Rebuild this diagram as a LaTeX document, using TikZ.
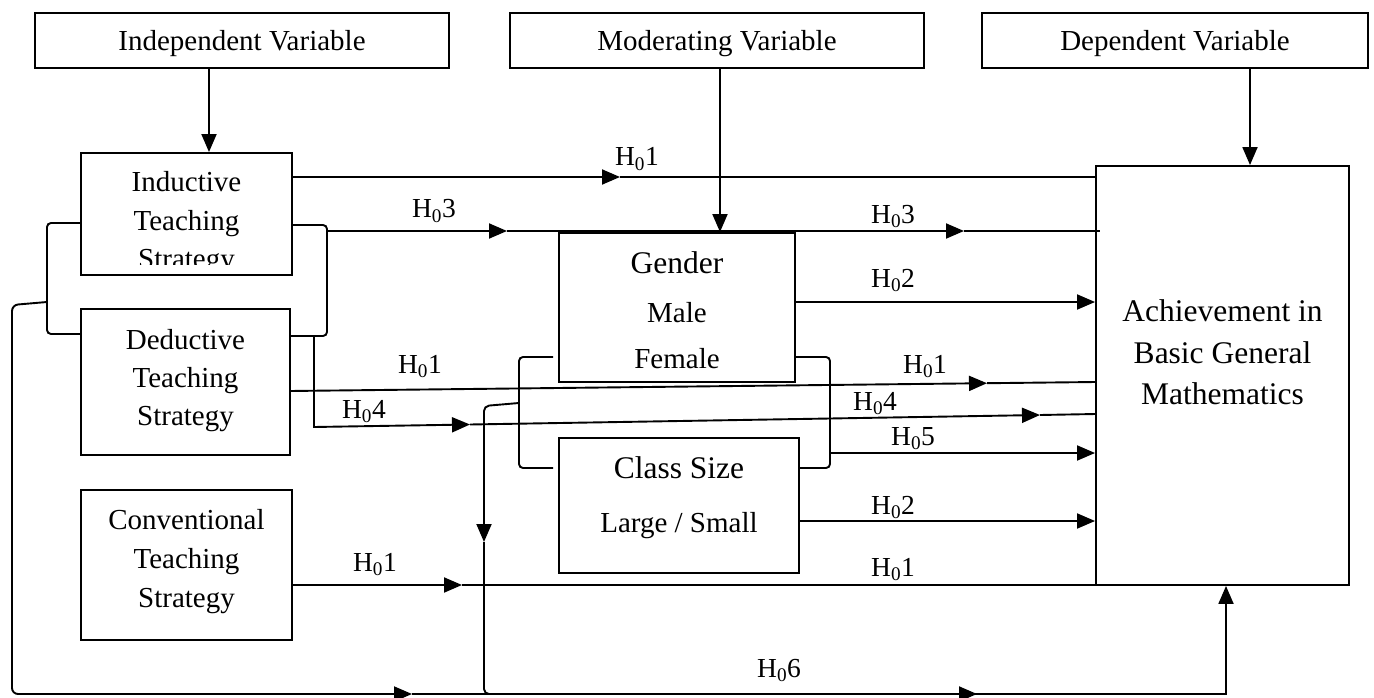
\documentclass[tikz,border=0pt]{standalone}
\usepackage{fontspec}
\setmainfont{Liberation Serif}
\usetikzlibrary{arrows.meta}
\begin{document}
\begin{tikzpicture}[x=1pt,y=-1pt,line width=1.9pt,
  box/.style={draw,line width=1.9pt,inner sep=0pt},
  arr/.style={-{Triangle[length=18pt,width=15pt]}},
  tx/.style={anchor=base,inner sep=0pt,font=\fontsize{29}{35}\selectfont},
  bigtx/.style={anchor=base,inner sep=0pt,font=\fontsize{31.5}{38}\selectfont},
  hl/.style={anchor=base,inner sep=0pt,font=\fontsize{27.5}{32}\selectfont}]
\fill[white] (0,0) rectangle (1374,698);
\useasboundingbox (0,0) rectangle (1374,698);

% header boxes
\node[box,minimum width=414pt,minimum height=55pt] (iv) at (242,40.5) {};
\node[box,minimum width=414pt,minimum height=55pt] (mv) at (717,40.5) {};
\node[box,minimum width=386pt,minimum height=55pt] (dv) at (1175,40.5) {};
\node[tx] (ivt) at (242,51) {Independent Variable};
\node[tx] (mvt) at (717,51) {Moderating Variable};
\node[tx] (dvt) at (1175,51) {Dependent Variable};

% strategy boxes
\node[box,minimum width=211pt,minimum height=122pt] (ind) at (186.5,214) {};
\node[box,minimum width=209pt,minimum height=146pt] (ded) at (185.5,382) {};
\node[box,minimum width=211pt,minimum height=150pt] (conv) at (186.5,565) {};
\begin{scope}
\clip (82,154) rectangle (291,264);
\node[tx] (ind1) at (186.5,191) {Inductive};
\node[tx] (ind2) at (186.5,230) {Teaching};
\node[tx] (ind3) at (186.5,268) {Strategy};
\end{scope}
\node[tx] (ded1) at (185.5,349) {Deductive};
\node[tx] (ded2) at (185.5,387) {Teaching};
\node[tx] (ded3) at (185.5,425) {Strategy};
\node[tx] (conv1) at (186.5,529) {Conventional};
\node[tx] (conv2) at (186.5,568) {Teaching};
\node[tx] (conv3) at (186.5,607) {Strategy};

% moderating boxes
\node[box,minimum width=236pt,minimum height=149pt] (gen) at (677,307.5) {};
\node[bigtx] (gen1) at (677,273) {Gender};
\node[tx] (gen2) at (677,322) {Male};
\node[tx] (gen3) at (677,368) {Female};
\node[box,minimum width=240pt,minimum height=135pt] (cls) at (679,505.5) {};
\node[bigtx] (cls1) at (679,478) {Class Size};
\node[tx] (cls2) at (679,532) {Large / Small};

% dependent box
\node[box,minimum width=253pt,minimum height=419pt] (ach) at (1222.5,375.5) {};
\node[bigtx] (ach1) at (1222.5,321) {Achievement in};
\node[bigtx] (ach2) at (1222.5,363) {Basic General};
\node[bigtx] (ach3) at (1222.5,404) {Mathematics};

% header arrows
\draw[arr] ([xshift=-33pt]iv.south) -- ([xshift=22.5pt]ind.north);
\draw[arr] ([xshift=3pt]mv.south) -- ([xshift=43pt]gen.north);
\draw[arr] ([xshift=75pt]dv.south) -- ([xshift=27.5pt]ach.north);

% H01 top
\coordinate (t1) at (620,177);
\draw[arr] (ind.east |- t1) -- (t1);
\draw (t1) -- (ach.west |- t1);

% right bracket of inductive / deductive
\coordinate (rbT) at (327,225);
\coordinate (rbB) at (327,336);
\draw[rounded corners=4pt] (ind.east |- rbT) -- (rbT) -- (rbB) -- (ded.east |- rbB);

% H03
\coordinate (h3s) at (327,231);
\coordinate (h3a) at (507,231);
\coordinate (h3b) at (964,231);
\coordinate (h3e) at (1100,231);
\draw[arr] (h3s) -- (h3a);
\draw[arr] (h3a) -- (h3b);
\draw (h3b) -- (h3e);

% H04
\coordinate (h4s) at (314,336);
\coordinate (h4c) at (314,427);
\coordinate (h4a) at (470,424.5);
\coordinate (h4b) at (1040,415);
\coordinate (h4e) at (1096,414);
\draw[arr] (h4s) -- (h4c) -- (h4a);
\draw[arr] (h4a) -- (h4b);
\draw (h4b) -- (h4e);

% left bracket and outer loop
\coordinate (lbT) at (47,223);
\coordinate (lbB) at (47,334);
\draw[rounded corners=4pt] (ind.west |- lbT) -- (lbT) -- (lbB) -- (ded.west |- lbB);
\coordinate (lb) at (47,302);
\coordinate (l1) at (12,305);
\coordinate (l2) at (12,694);
\coordinate (ba) at (412,694);
\coordinate (bb) at (977,694);
\coordinate (bc) at (1226,694);
\draw[arr,rounded corners=6pt] (lb) -- (l1) -- (l2) -- (ba);
\draw[arr] (ba) -- (bb);
\draw[arr] (bb) -- (bc) -- (ach.south -| bc);

% bracket of gender / class size (left) and inner loop
\coordinate (cbT) at (519,357);
\coordinate (cbB) at (519,468);
\draw[rounded corners=4pt] ([xshift=-5pt]gen.west |- cbT) -- (cbT) -- (cbB) -- ([xshift=-5pt]cls.west |- cbB);
\coordinate (cb) at (519,403);
\coordinate (v0) at (484,406);
\coordinate (v1) at (484,542);
\coordinate (v2) at (484,694);
\draw[arr,rounded corners=5pt] (cb) -- (v0) -- (v1);
\draw[rounded corners=5pt] (v1) -- (v2) -- (bb);

% bracket of gender / class size (right) and H05
\coordinate (gbT) at (830,357);
\coordinate (gbB) at (830,468);
\draw[rounded corners=4pt] (gen.east |- gbT) -- (gbT) -- (gbB) -- (cls.east |- gbB);
\coordinate (h5s) at (830,453);
\draw[arr] (h5s) -- (ach.west |- h5s);

% H02 lines
\coordinate (g2) at (900,302);
\draw[arr] (gen.east |- g2) -- (ach.west |- g2);
\coordinate (c2) at (900,521);
\draw[arr] (cls.east |- c2) -- (ach.west |- c2);

% H01 deductive
\coordinate (d1s) at (290,391);
\coordinate (d1a) at (987,383.2);
\coordinate (d1e) at (1096,382);
\draw[arr] (d1s) -- (d1a);
\draw (d1a) -- (d1e);

% H01 conventional
\coordinate (c1a) at (462,585);
\draw[arr] (conv.east |- c1a) -- (c1a);
\draw (c1a) -- (ach.west |- c1a);

% labels
\node[hl] (L1) at (637,166) {H\textsubscript{0}1};
\node[hl] (L2) at (434,218) {H\textsubscript{0}3};
\node[hl] (L3) at (893,223) {H\textsubscript{0}3};
\node[hl] (L4) at (893,287) {H\textsubscript{0}2};
\node[hl] (L5) at (420,373) {H\textsubscript{0}1};
\node[hl] (L6) at (925,373) {H\textsubscript{0}1};
\node[hl] (L7) at (364,418) {H\textsubscript{0}4};
\node[hl] (L8) at (875,410) {H\textsubscript{0}4};
\node[hl] (L9) at (913,445) {H\textsubscript{0}5};
\node[hl] (L10) at (893,514) {H\textsubscript{0}2};
\node[hl] (L11) at (375,571) {H\textsubscript{0}1};
\node[hl] (L12) at (893,576) {H\textsubscript{0}1};
\node[hl] (L13) at (779,677) {H\textsubscript{0}6};
\end{tikzpicture}
\end{document}
